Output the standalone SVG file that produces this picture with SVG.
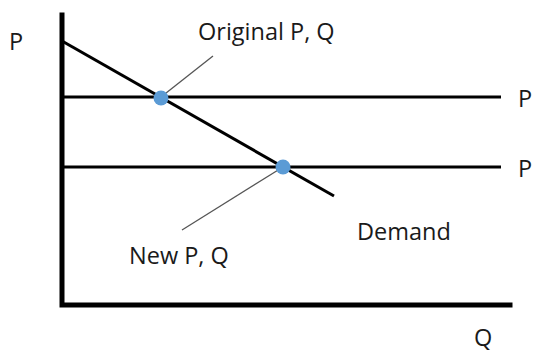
<svg xmlns="http://www.w3.org/2000/svg" width="535" height="353" viewBox="0 0 535 353">
<style>
.t{font-family:"Open Sans","Liberation Sans",sans-serif;font-size:23.5px;fill:#1a1a1a}
.ax{stroke:#000;stroke-width:5;fill:none;stroke-linecap:square}
.ln{stroke:#000;stroke-width:3;fill:none}
.ld{stroke:#555;stroke-width:1.3;fill:none}
.dot{fill:#5b9bd5}
</style>
<rect width="535" height="353" fill="#fff"/>
<g id="axes">
<path class="ax" d="M62,15 V305 H510"/>
<text class="t" x="9" y="50">P</text>
<text class="t" x="474" y="346">Q</text>
</g>
<g id="price-lines">
<line class="ln" x1="62" y1="97" x2="501" y2="97"/>
<line class="ln" x1="62" y1="167" x2="501" y2="167"/>
<text class="t" x="518" y="107">P</text>
<text class="t" x="518" y="177">P</text>
</g>
<g id="demand">
<line class="ln" x1="62" y1="41" x2="334" y2="196"/>
<text class="t" x="357" y="240">Demand</text>
</g>
<g id="connectors">
<line class="ld" x1="161" y1="97" x2="213" y2="56"/>
<line class="ld" x1="283" y1="167" x2="182" y2="230"/>
</g>
<g id="original">
<circle class="dot" cx="161" cy="98" r="7.5"/>
<text class="t" x="198" y="40">Original P, Q</text>
</g>
<g id="new">
<circle class="dot" cx="283" cy="167" r="7.5"/>
<text class="t" x="129" y="264">New P, Q</text>
</g>
</svg>
